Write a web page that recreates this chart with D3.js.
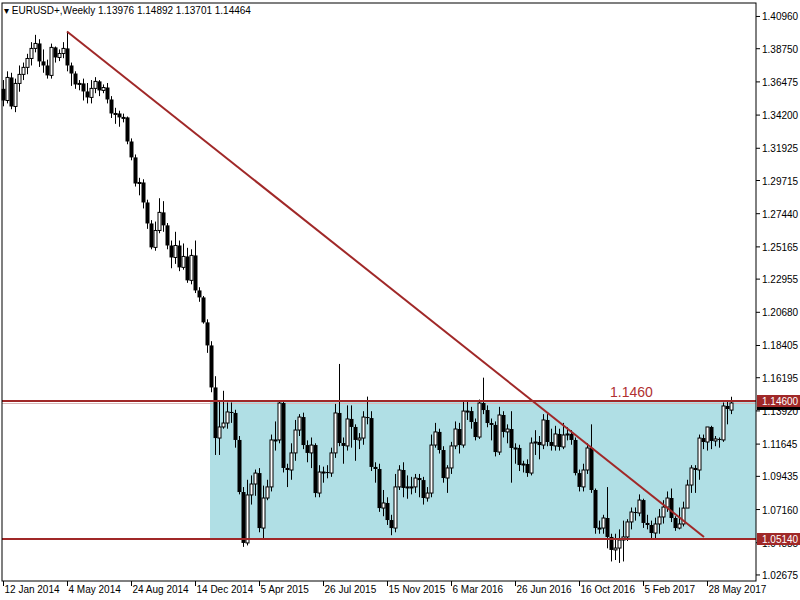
<!DOCTYPE html>
<html><head><meta charset="utf-8">
<script src="https://cdn.jsdelivr.net/npm/d3@7"></script>
<style>body{margin:0;background:#fff}svg{display:block}text{font-family:"Liberation Sans",Arial,sans-serif}</style>
</head><body><svg id="c" width="800" height="600"></svg>
<script>
const closes=[1.3520,1.3678,1.3479,1.3637,1.3699,1.3747,1.3808,1.3877,1.3911,1.3788,1.3760,1.3692,1.3884,1.3815,1.3842,1.3877,1.3760,1.3705,1.3630,1.3637,1.3582,1.3541,1.3603,1.3651,1.3589,1.3609,1.3527,1.3431,1.3431,1.3404,1.3404,1.3239,1.3130,1.2951,1.2958,1.2821,1.2677,1.2513,1.2629,1.2753,1.2664,1.2526,1.2444,1.2526,1.2376,1.2451,1.2287,1.2458,1.2218,1.2170,1.1999,1.1841,1.1553,1.1206,1.1282,1.1309,1.1385,1.1378,1.1193,1.0836,1.0487,1.0816,1.0891,1.0966,1.0589,1.0795,1.0871,1.1193,1.1193,1.1446,1.1001,1.0987,1.1104,1.1261,1.1350,1.1158,1.1104,1.1158,1.0829,1.0973,1.0973,1.0966,1.1104,1.1378,1.1172,1.1152,1.1337,1.1282,1.1193,1.1206,1.1350,1.1343,1.1008,1.0994,1.0726,1.0761,1.0644,1.0589,1.0871,1.0987,1.0864,1.0871,1.0871,1.0932,1.0918,1.0795,1.0829,1.1158,1.1248,1.1124,1.0932,1.1001,1.1152,1.1268,1.1158,1.1391,1.1391,1.1316,1.1213,1.1446,1.1398,1.1309,1.1296,1.1110,1.1364,1.1248,1.1268,1.1138,1.1138,1.1021,1.1028,1.0966,1.1172,1.1179,1.1158,1.1330,1.1179,1.1152,1.1234,1.1145,1.1227,1.1234,1.1193,1.0966,1.0871,1.0987,1.1138,1.0850,1.0589,1.0589,1.0658,1.0528,1.0439,1.0452,1.0507,1.0528,1.0631,1.0699,1.0692,1.0781,1.0624,1.0610,1.0555,1.0617,1.0665,1.0733,1.0795,1.0658,1.0589,1.0617,1.0726,1.0884,1.1001,1.0987,1.1206,1.1179,1.1282,1.1186,1.1200,1.1193,1.1426,1.1405,1.14464];
const opens0=[1.3600];
const highs=[1.366,1.372,1.371,1.367,1.376,1.378,1.384,1.392,1.397,1.394,1.387,1.380,1.391,1.389,1.387,1.392,1.3993,1.378,1.372,1.366,1.367,1.364,1.366,1.368,1.366,1.363,1.364,1.355,1.347,1.345,1.343,1.341,1.326,1.315,1.299,1.298,1.284,1.270,1.269,1.285,1.283,1.268,1.256,1.262,1.256,1.254,1.251,1.250,1.256,1.224,1.218,1.202,1.187,1.163,1.146,1.153,1.145,1.145,1.140,1.122,1.087,1.092,1.095,1.099,1.100,1.088,1.092,1.123,1.132,1.146,1.146,1.103,1.117,1.133,1.137,1.138,1.119,1.121,1.117,1.102,1.101,1.102,1.114,1.144,1.1714,1.121,1.143,1.143,1.130,1.124,1.139,1.149,1.139,1.104,1.103,1.085,1.080,1.068,1.096,1.102,1.104,1.095,1.094,1.096,1.096,1.094,1.087,1.123,1.131,1.127,1.115,1.102,1.118,1.132,1.131,1.146,1.146,1.142,1.134,1.147,1.162,1.143,1.134,1.132,1.142,1.139,1.130,1.139,1.117,1.116,1.105,1.106,1.121,1.126,1.122,1.137,1.137,1.127,1.129,1.127,1.131,1.128,1.126,1.121,1.099,1.103,1.117,1.130,1.086,1.064,1.068,1.087,1.055,1.055,1.058,1.064,1.065,1.073,1.073,1.082,1.079,1.068,1.064,1.066,1.072,1.078,1.084,1.086,1.067,1.073,1.077,1.092,1.102,1.102,1.123,1.123,1.128,1.129,1.122,1.121,1.145,1.146,1.14892];
const lows=[1.348,1.350,1.346,1.344,1.358,1.366,1.370,1.376,1.385,1.375,1.371,1.367,1.367,1.378,1.379,1.381,1.372,1.362,1.360,1.359,1.352,1.350,1.350,1.357,1.355,1.357,1.350,1.340,1.336,1.334,1.337,1.322,1.311,1.293,1.287,1.278,1.264,1.250,1.249,1.261,1.262,1.250,1.237,1.240,1.235,1.236,1.227,1.226,1.220,1.214,1.199,1.179,1.152,1.109,1.109,1.127,1.127,1.131,1.114,1.082,1.046,1.047,1.075,1.081,1.056,1.052,1.078,1.084,1.112,1.117,1.097,1.087,1.092,1.105,1.122,1.113,1.104,1.100,1.080,1.080,1.090,1.093,1.094,1.107,1.115,1.103,1.112,1.114,1.105,1.113,1.116,1.130,1.098,1.090,1.070,1.067,1.061,1.054,1.056,1.085,1.080,1.079,1.082,1.083,1.080,1.075,1.077,1.080,1.114,1.110,1.090,1.083,1.096,1.113,1.110,1.114,1.133,1.127,1.119,1.120,1.137,1.128,1.119,1.108,1.109,1.121,1.117,1.090,1.103,1.098,1.097,1.094,1.095,1.109,1.106,1.113,1.115,1.112,1.112,1.112,1.113,1.119,1.116,1.095,1.084,1.084,1.096,1.083,1.055,1.055,1.055,1.045,1.036,1.037,1.035,1.036,1.050,1.058,1.064,1.067,1.059,1.058,1.051,1.051,1.055,1.062,1.070,1.063,1.057,1.058,1.060,1.081,1.083,1.083,1.092,1.113,1.112,1.113,1.115,1.114,1.118,1.130,1.13701];
const opens=closes.map((c,i)=>i===0?opens0[0]:(i===182?1.13976:closes[i-1]));
const dateLabels=["12 Jan 2014","4 May 2014","24 Aug 2014","14 Dec 2014","5 Apr 2015","26 Jul 2015","15 Nov 2015","6 Mar 2016","26 Jun 2016","16 Oct 2016","5 Feb 2017","28 May 2017"];
const dateWeeks=[0,16,32,48,64,80,96,112,128,144,160,176];
const priceTicks=[1.40960,1.38750,1.36475,1.34200,1.31925,1.29715,1.27440,1.25165,1.22955,1.20680,1.18405,1.16195,1.13920,1.11645,1.09435,1.07160,1.04885,1.02675];
const resistance=1.1460, support=1.0514;
const zoneStartWeek=52;
const trendWeeks=[16,175.25], trendPrices=[1.3993,1.0528];

const svg=d3.select("#c");
const L=2,R=756,T=3,B=581;
const x=d3.scaleLinear().domain([0,182]).range([3,731]);
const y=d3.scaleLinear().domain([support,resistance]).range([539,401]);
const red="#a02828";
svg.append("rect").attr("x",x(zoneStartWeek)-1).attr("y",y(resistance)).attr("width",R-x(zoneStartWeek)+1).attr("height",y(support)-y(resistance)).attr("fill","#b0dfe5");
svg.append("line").attr("x1",L).attr("x2",R).attr("y1",y(resistance)+2.5).attr("y2",y(resistance)+2.5).attr("stroke","#d8b8b8").attr("stroke-width",1);
const g=svg.append("g");
closes.forEach((c,i)=>{
  const cx=Math.round(x(i))+0.5, o=opens[i];
  g.append("line").attr("x1",cx).attr("x2",cx).attr("y1",y(highs[i])).attr("y2",y(lows[i])).attr("stroke","#000");
  const top=y(Math.max(o,c)), bot=y(Math.min(o,c));
  const h=Math.max(1,bot-top);
  if(c>=o) g.append("rect").attr("x",cx-1.5).attr("y",top).attr("width",3).attr("height",h).attr("fill","#fff").attr("stroke","#000");
  else g.append("rect").attr("x",cx-2).attr("y",top).attr("width",4).attr("height",h).attr("fill","#000");
});
[resistance,support].forEach(v=>svg.append("line").attr("x1",L).attr("x2",R).attr("y1",y(v)).attr("y2",y(v)).attr("stroke",red).attr("stroke-width",2));
svg.append("line").attr("x1",x(trendWeeks[0])).attr("y1",y(trendPrices[0])).attr("x2",x(trendWeeks[1])).attr("y2",y(trendPrices[1])).attr("stroke",red).attr("stroke-width",2);
svg.append("text").attr("x",610).attr("y",y(resistance)-4).attr("fill","#b03030").attr("font-size",14).text(resistance.toFixed(4));
svg.append("rect").attr("x",L).attr("y",T).attr("width",R-L).attr("height",B-T).attr("fill","none").attr("stroke","#000");
priceTicks.forEach(v=>{
  svg.append("line").attr("x1",R).attr("x2",R+4).attr("y1",y(v)).attr("y2",y(v)).attr("stroke","#000");
  svg.append("text").attr("x",762).attr("y",y(v)+4).attr("font-size",10).attr("fill","#000").text(v.toFixed(5));
});
svg.append("rect").attr("x",R+1).attr("y",y(1.14464)).attr("width",43).attr("height",7).attr("fill","#000");
[resistance,support].forEach(v=>{
  svg.append("rect").attr("x",R+1).attr("y",y(v)-6).attr("width",43).attr("height",12).attr("fill",red);
  svg.append("text").attr("x",762).attr("y",y(v)+4).attr("font-size",10).attr("fill","#fff").text(v.toFixed(5));
});
dateWeeks.forEach((w,k)=>{
  const xx=Math.round(x(w))+0.5;
  svg.append("line").attr("x1",xx).attr("x2",xx).attr("y1",B).attr("y2",B+5).attr("stroke","#000");
  svg.append("text").attr("x",xx+1).attr("y",593).attr("font-size",10).attr("fill","#000").text(dateLabels[k]);
});
svg.append("text").attr("x",4).attr("y",14).attr("font-size",10).attr("fill","#000").text("▾ EURUSD+,Weekly  1.13976 1.14892 1.13701 1.14464");
</script></body></html>
